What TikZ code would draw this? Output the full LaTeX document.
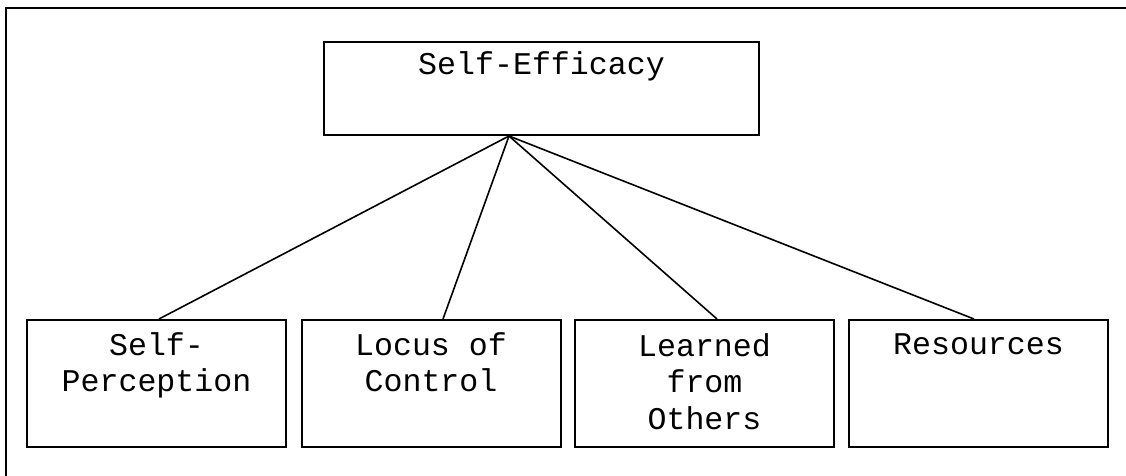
\documentclass[tikz,border=0pt]{standalone}
\usepackage{fontspec}
\setmainfont{Liberation Mono}
\begin{document}
\begin{tikzpicture}[x=0.5pt,y=-0.5pt,
  frameline/.style={line width=1pt,black},
  topbox/.style={draw,line width=1pt,inner sep=0pt,
    font=\fontsize{15.8pt}{18pt}\selectfont},
  subbox/.style={draw,line width=1pt,inner sep=0pt,
    font=\fontsize{15.8pt}{18pt}\selectfont},
  link/.style={line width=0.8pt}]
\useasboundingbox (0,0) rectangle (1126,476);
\draw[frameline] (6,476) -- (6,8) -- (1126,8);
\node[topbox] (top) at (541.5,88.5)
  {\parbox[t][46.5pt][t]{217.5pt}{\centering\rule{0pt}{16.5pt}Self-Efficacy}};
\node[subbox] (b1) at (156.5,383.5)
  {\parbox[t][63.5pt][t]{129.5pt}{\centering\rule{0pt}{17.5pt}Self-\\Perception}};
\node[subbox] (b2) at (431,383.5)
  {\parbox[t][63.5pt][t]{129.5pt}{\centering\rule{0pt}{17.5pt}Locus of\\Control}};
\node[subbox] (b3) at (704.5,383.5)
  {\parbox[t][63.5pt][t]{129.5pt}{\centering\rule{0pt}{18.5pt}Learned\\from\\Others}};
\node[subbox] (b4) at (978.5,383.5)
  {\parbox[t][63.5pt][t]{129.5pt}{\centering\rule{0pt}{17pt}Resources}};
\coordinate (apex) at ([xshift=-16.25pt]top.south);
\draw[link] (apex) -- ([xshift=1.25pt]b1.north);
\draw[link] (apex) -- ([xshift=6pt]b2.north);
\draw[link] (apex) -- ([xshift=6.25pt]b3.north);
\draw[link] (apex) -- ([xshift=-2.25pt]b4.north);
\end{tikzpicture}
\end{document}
